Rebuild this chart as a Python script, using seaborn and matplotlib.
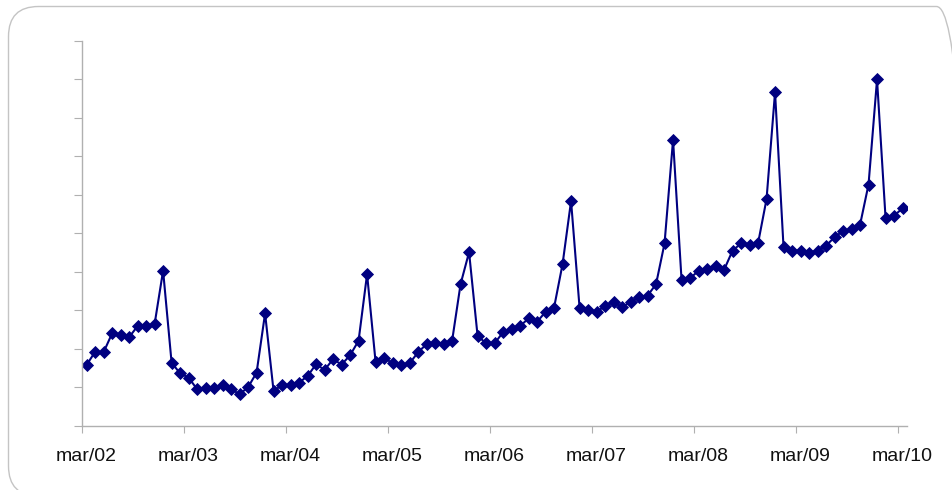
import matplotlib
matplotlib.use('Agg')
import matplotlib.pyplot as plt
import pandas as pd
import seaborn as sns
from matplotlib.patches import FancyBboxPatch
from matplotlib.transforms import IdentityTransform

# monthly series, mar/02 .. mar/10 (no unit shown)
months = pd.date_range('2002-03-01', '2010-03-01', freq='MS')
values = [
    15.8, 19.2, 19.1, 24.0, 23.6, 23.0, 25.9, 25.9, 26.4, 40.3, 16.4, 13.6,
    12.5, 9.5, 9.9, 9.9, 10.6, 9.5, 8.2, 10.0, 13.8, 29.2, 9.0, 10.6,
    10.6, 11.2, 12.9, 16.0, 14.5, 17.3, 15.9, 18.3, 22.1, 39.4, 16.6, 17.7,
    16.2, 15.8, 16.2, 19.1, 21.2, 21.6, 21.2, 22.0, 36.8, 45.1, 23.4, 21.4,
    21.4, 24.3, 25.1, 25.9, 27.9, 27.0, 29.6, 30.7, 42.0, 58.4, 30.7, 30.1,
    29.6, 31.1, 32.2, 30.8, 32.2, 33.5, 33.8, 36.8, 47.4, 74.3, 37.9, 38.3,
    40.3, 40.7, 41.6, 40.5, 45.5, 47.4, 47.0, 47.4, 58.9, 86.7, 46.4, 45.5,
    45.5, 45.0, 45.5, 46.8, 49.0, 50.6, 51.1, 52.2, 62.7, 90.0, 54.1, 54.6,
    56.5,
]
tick_labels = ['mar/%02d' % (y % 100) for y in range(2002, 2011)]

df = pd.DataFrame({'month': months, 'value': values})
df['pos'] = range(len(df))

sns.set_style('white')
plt.rcParams['font.family'] = ['Liberation Sans', 'DejaVu Sans']

fig = plt.figure(figsize=(9.52, 4.9), dpi=100)
ax = fig.add_axes([0.0865, 0.1312, 0.866, 0.7851])

# rounded frame round the whole chart, in pixels (right and bottom edges fall outside)
frame = FancyBboxPatch((8.5, -6), 958, 489.5,
                       boxstyle='round,pad=0,rounding_size=30',
                       transform=IdentityTransform(), facecolor='none',
                       edgecolor='#c4c4c4', linewidth=1.0, zorder=-1)
fig.patches.append(frame)

sns.lineplot(data=df, x='pos', y='value', ax=ax, color='#000080',
             linewidth=1.5, marker='D', markersize=6.2,
             markeredgecolor='#000080', markeredgewidth=0.6)

ax.set_xlim(-0.5, len(df) - 0.5)
ax.set_ylim(0, 100)

# tick marks between categories, labels on the march points
ax.set_xticks([-0.5 + 12 * k for k in range(9)])
ax.set_xticklabels([])
ax.set_xticks([12 * k for k in range(9)], minor=True)
ax.set_xticklabels(tick_labels, minor=True, fontsize=14, color='#111111')
ax.tick_params(axis='x', which='major', length=5, width=0.8, color='#b0b0b0',
               direction='out', bottom=True)
ax.tick_params(axis='x', which='minor', length=0, pad=16)

ax.set_yticks(range(0, 101, 10))
ax.set_yticklabels([])
ax.tick_params(axis='y', length=6, width=0.8, color='#b0b0b0',
               direction='out', left=True)

for side in ['top', 'right']:
    ax.spines[side].set_visible(False)
for side in ['left', 'bottom']:
    ax.spines[side].set_color('#b0b0b0')
    ax.spines[side].set_linewidth(1.0)

ax.set_xlabel('')
ax.set_ylabel('')

fig.savefig('out.png', dpi=100)
